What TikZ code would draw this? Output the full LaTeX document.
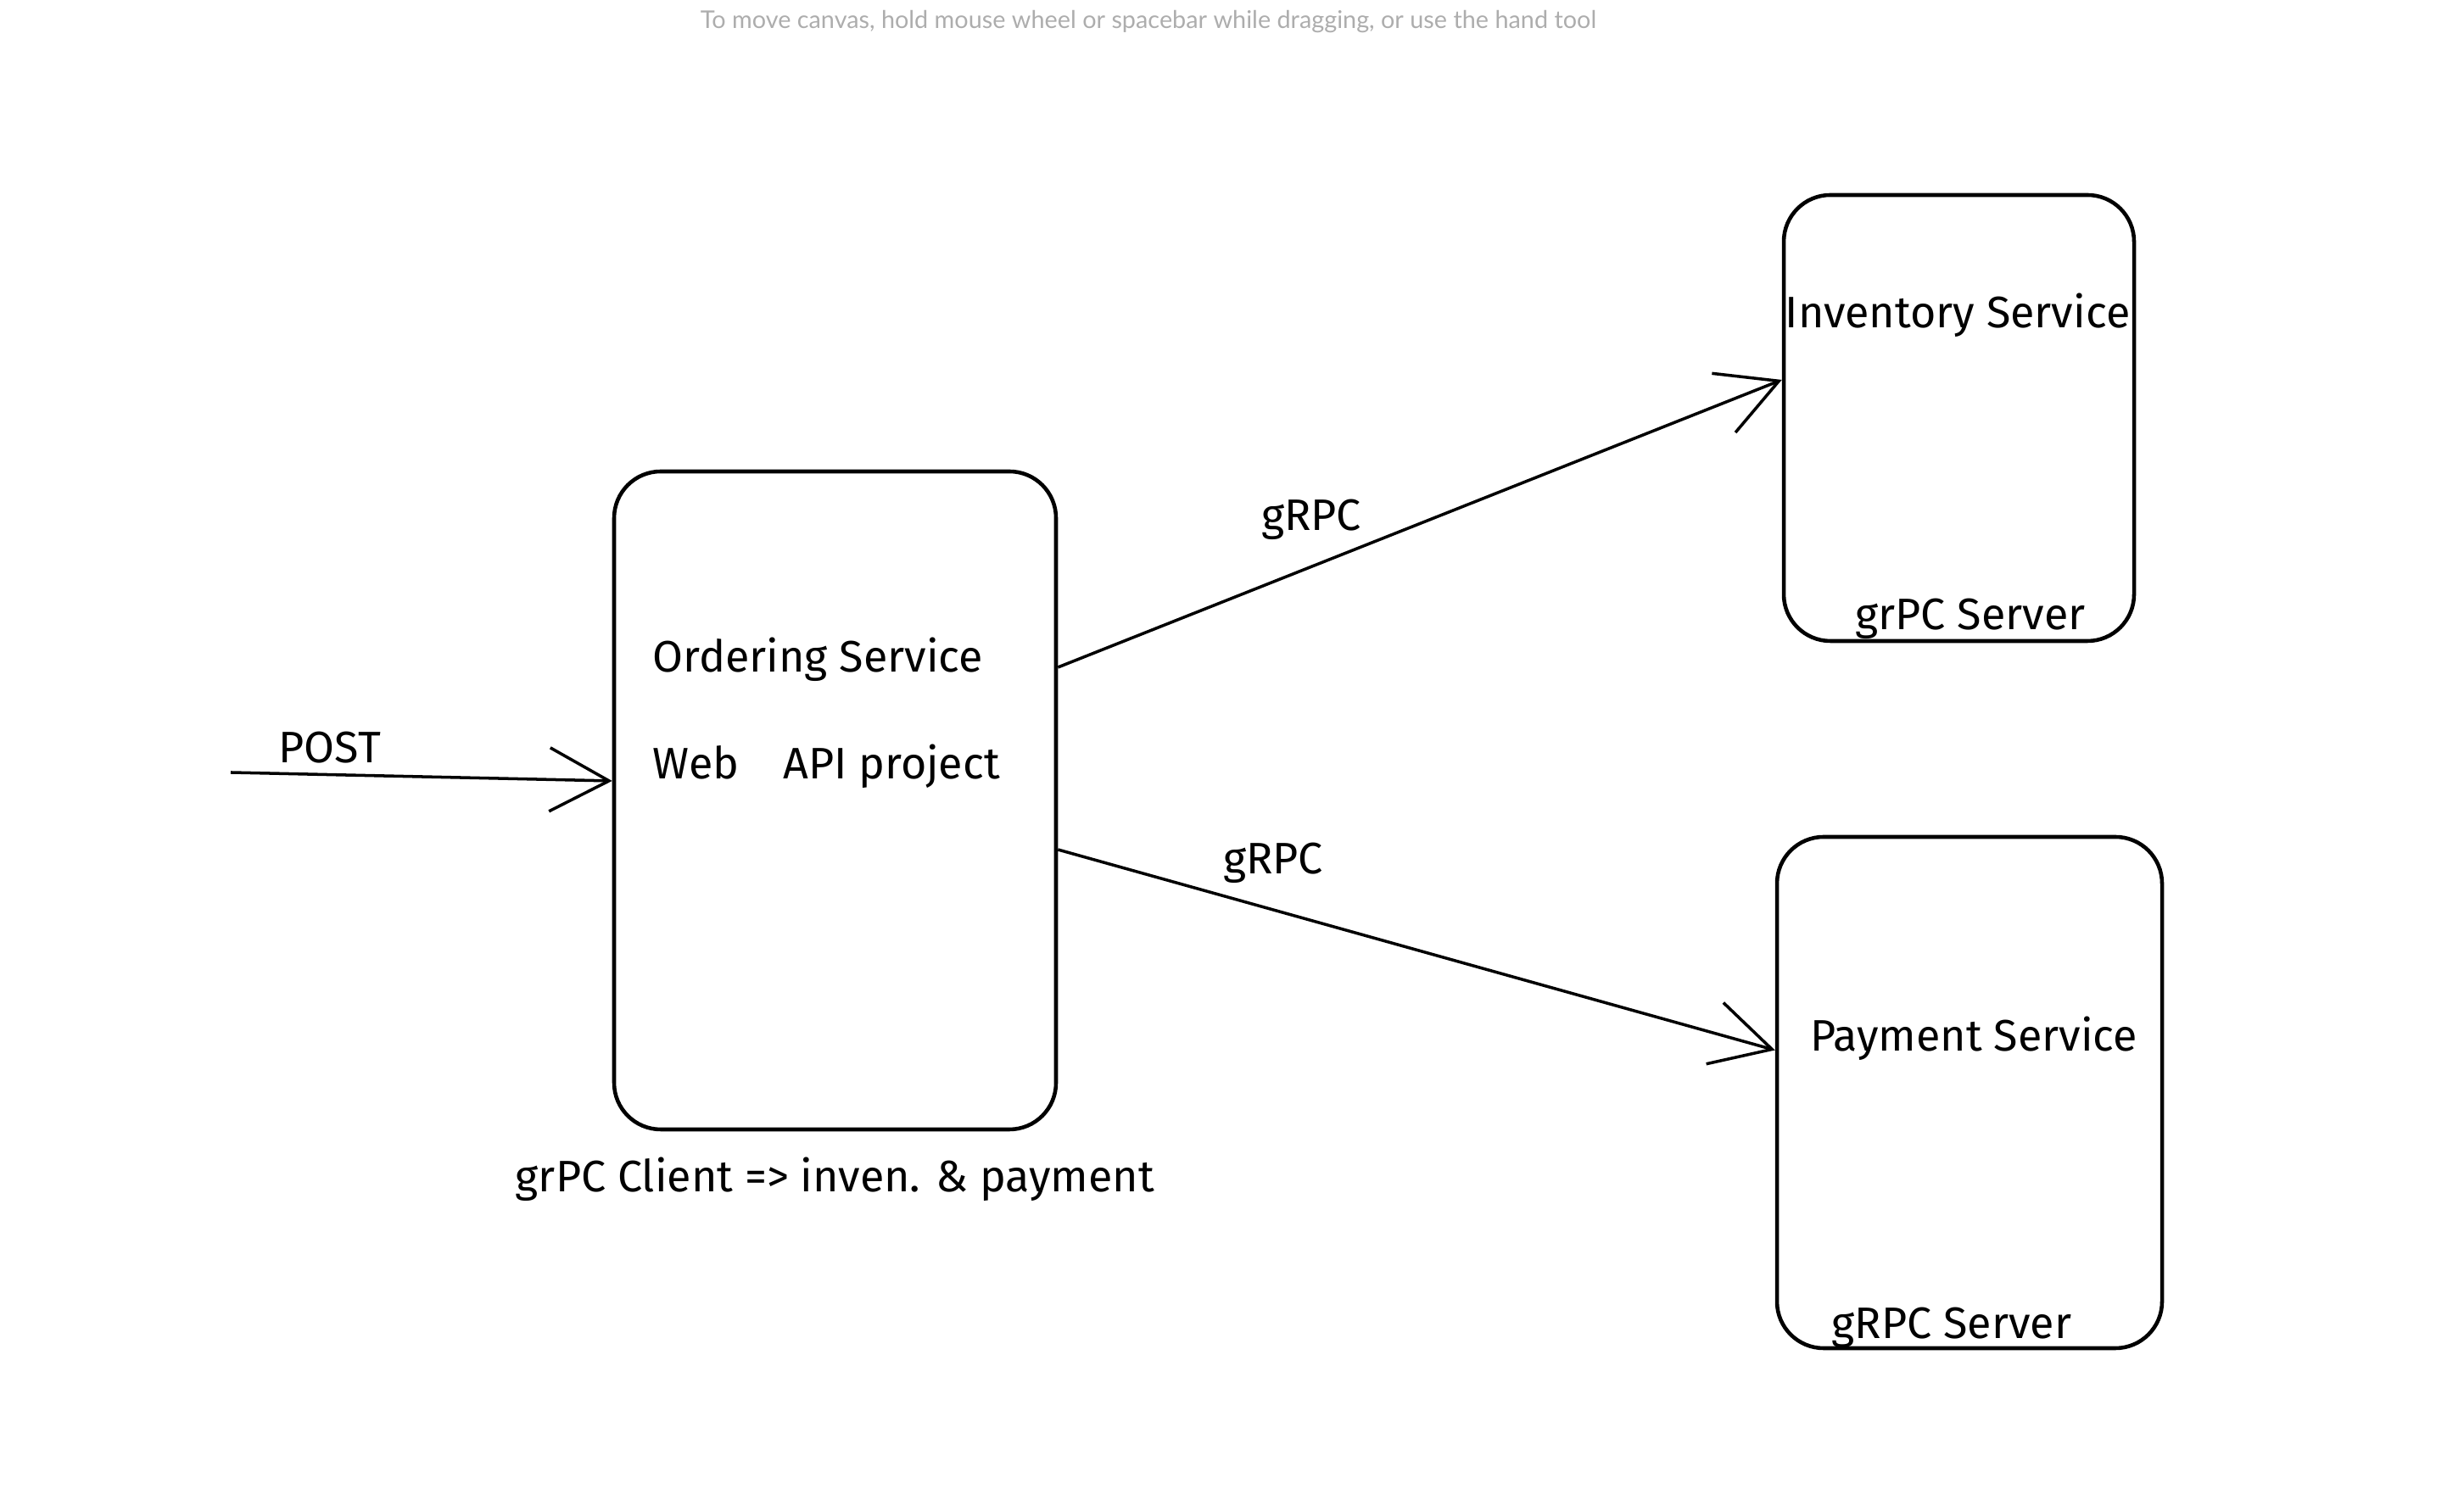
\documentclass[tikz,border=0pt]{standalone}
\usepackage{fontspec}
\setmainfont{Fira Sans}
\newfontfamily\hintfont{Lato}
\usepackage{tikz}
\usetikzlibrary{arrows.meta, positioning}

\begin{document}
\begin{tikzpicture}[
  box/.style={draw, line width=1.3pt, rounded corners=0.55cm},
  lbl/.style={font=\fontsize{14.8}{17}\selectfont, inner sep=0pt},
  hint/.style={font=\hintfont\fontsize{8.2}{10}\selectfont, text=black!32},
  arr/.style={-{Straight Barb[length=0.7cm, width=0.75cm]}, line width=1pt},
]
\useasboundingbox (0,0) rectangle (29.05,17.82);

% Aviso (topo)
\node[hint] (tip) at (13.54,17.56) {To move canvas, hold mouse wheel or spacebar while dragging, or use the hand tool};

% Ordering (esquerda)
\node[box, minimum width=5.21cm, minimum height=7.76cm] (ord) at (9.845,8.38) {};
\node[lbl, anchor=west] (ordname) at (7.69,10.04) {Ordering Service};
\node[lbl, anchor=west] (ordapi) at (7.69,8.78) {Web\quad API project};
\node[lbl, below=0.3cm of ord] (ordcli) {grPC Client => inven. \& payment};

% Inventory (direita, acima)
\node[box, minimum width=4.13cm, minimum height=5.26cm] (inv) at (23.095,12.89) {};
\node[lbl] (invname) at (23.08,14.10) {Inventory Service};
\node[lbl] (invsrv) at (23.23,10.52) {grPC Server};

% Payment (direita, abaixo)
\node[box, minimum width=4.54cm, minimum height=6.03cm] (pay) at (23.22,4.935) {};
\node[lbl] (payname) at (23.27,5.57) {Payment Service};
\node[lbl] (paysrv) at (23.01,2.16) {gRPC Server};

% Entrada POST
\coordinate (postin) at (2.72,8.71);
\draw[arr] (postin) -- node[lbl, pos=0.26, above=0.12cm] {POST} ([yshift=0.23cm]ord.west);

% Chamadas gRPC
\draw[arr] ([yshift=1.57cm]ord.east) -- node[lbl, pos=0.35, above=0.3cm] {gRPC} ([yshift=0.45cm]inv.west);
\draw[arr] ([yshift=-0.58cm]ord.east) -- node[lbl, pos=0.3, above=0.3cm] {gRPC} ([yshift=0.5cm]pay.west);

\end{tikzpicture}
\end{document}
